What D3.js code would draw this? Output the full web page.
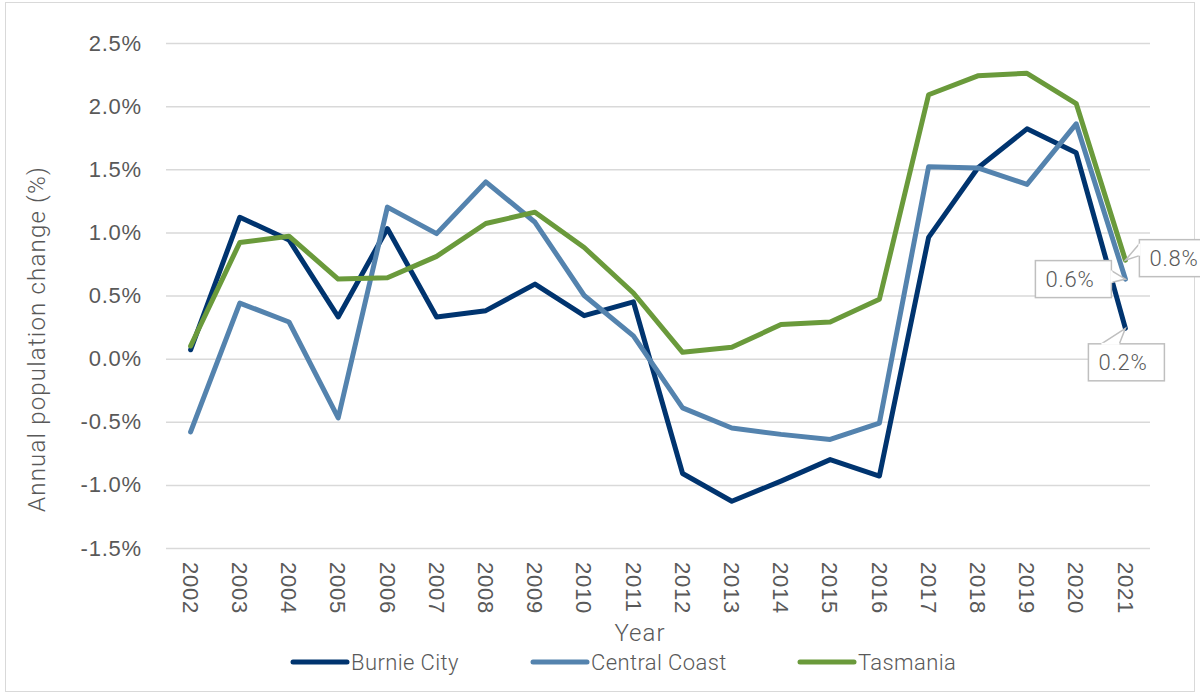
<!DOCTYPE html>
<html>
<head>
<meta charset="utf-8">
<script src="https://cdn.jsdelivr.net/npm/d3@7.9.0/dist/d3.min.js"></script>
<style>
  html, body { margin: 0; padding: 0; background: #fff; }
  svg { display: block; font-family: Roboto, "Liberation Sans", Arial, sans-serif; font-weight: 300; }
  .tick text { fill: #595959; }
</style>
</head>
<body>
<svg id="chart" width="1200" height="693"></svg>
<script>
// annual population change, %
var years = ['2002', '2003', '2004', '2005', '2006', '2007', '2008', '2009', '2010', '2011',
    '2012', '2013', '2014', '2015', '2016', '2017', '2018', '2019', '2020', '2021']
var burnie = [0.07, 1.12, 0.94, 0.33, 1.03, 0.33, 0.38, 0.59, 0.34, 0.45,
    -0.91, -1.13, -0.97, -0.80, -0.93, 0.96, 1.51, 1.82, 1.63, 0.24]
var centralCoast = [-0.58, 0.44, 0.29, -0.47, 1.20, 0.99, 1.40, 1.08, 0.50, 0.18,
    -0.39, -0.55, -0.60, -0.64, -0.51, 1.52, 1.51, 1.38, 1.86, 0.63]
var tasmania = [0.10, 0.92, 0.97, 0.63, 0.64, 0.81, 1.07, 1.16, 0.88, 0.52,
    0.05, 0.09, 0.27, 0.29, 0.47, 2.09, 2.24, 2.26, 2.02, 0.78]
var yTicks = [-1.5, -1.0, -0.5, 0.0, 0.5, 1.0, 1.5, 2.0, 2.5]

var series = [
    { name: 'Burnie City', values: burnie, color: '#00346f', label: { dx: 1, dy: 34, anchor: 'top' } },
    { name: 'Central Coast', values: centralCoast, color: '#5483ae', label: { dx: -52, dy: 0, anchor: 'right' } },
    { name: 'Tasmania', values: tasmania, color: '#6a9a3b', label: { dx: 52, dy: -2, anchor: 'left' } },
]

var svg = d3.select('#chart')
var W = 1200, H = 693
var m = { left: 166, right: 1150, top: 43, bottom: 548 }

// chart border
svg.append('rect')
    .attr('x', 5.5).attr('y', 2.5)
    .attr('width', W - 11).attr('height', H - 4)
    .attr('fill', '#fff').attr('stroke', '#d9d9d9').attr('stroke-width', 1)

var x = d3.scaleBand().domain(years).range([m.left, m.right])
var y = d3.scaleLinear().domain([-1.5, 2.5]).range([m.bottom, m.top])
var cx = function (i) { return x(years[i]) + x.bandwidth() / 2 }

// gridlines + y labels
var yAxis = svg.append('g')
    .attr('transform', 'translate(' + m.left + ',0)')
    .call(d3.axisLeft(y).tickValues(yTicks).tickSize(-(m.right - m.left)).tickPadding(24)
        .tickFormat(function (d) { return d.toFixed(1) + '%' }))
yAxis.select('.domain').remove()
yAxis.selectAll('.tick line').attr('stroke', '#d9d9d9').attr('stroke-width', 1.5)
yAxis.selectAll('.tick text').attr('font-size', 22).attr('letter-spacing', 0.8)

// x labels
var xAxis = svg.append('g')
    .attr('transform', 'translate(0,' + m.bottom + ')')
    .call(d3.axisBottom(x).tickSize(0).tickPadding(0))
xAxis.select('.domain').remove()
xAxis.selectAll('.tick text')
    .attr('font-size', 22)
    .attr('letter-spacing', 0.8)
    .attr('transform', 'translate(0,14) rotate(90)')
    .attr('dy', '0.35em')
    .attr('x', 0).attr('y', 0)
    .style('text-anchor', 'start')

// axis titles
svg.append('text')
    .attr('transform', 'translate(45,339) rotate(-90)')
    .attr('text-anchor', 'middle')
    .attr('font-size', 24).attr('fill', '#595959')
    .attr('letter-spacing', 1.2)
    .text('Annual population change (%)')
svg.append('text')
    .attr('x', 640).attr('y', 641)
    .attr('text-anchor', 'middle')
    .attr('font-size', 24).attr('fill', '#595959')
    .attr('letter-spacing', 1)
    .text('Year')

// lines
var line = d3.line()
    .x(function (d, i) { return cx(i) })
    .y(function (d) { return y(d) })

series.forEach(function (s) {
    svg.append('path')
        .datum(s.values)
        .attr('d', line)
        .attr('fill', 'none')
        .attr('stroke', s.color)
        .attr('stroke-width', 5)
        .attr('stroke-linejoin', 'round')
        .attr('stroke-linecap', 'round')
})

// callout labels on the last point
var last = years.length - 1
series.forEach(function (s) {
    var v = s.values[last]
    var px = cx(last), py = y(v)
    var bw = 76, bh = 37
    var bx = px + s.label.dx - bw / 2
    var by = py + s.label.dy - bh / 2
    var g = svg.append('g')
    g.append('rect')
        .attr('x', bx).attr('y', by).attr('width', bw).attr('height', bh)
        .attr('fill', '#fff').attr('stroke', '#bfbfbf').attr('stroke-width', 1.5)
    // wedge pointing at the data point
    var a, b
    if (s.label.anchor === 'top') {
        a = [bx + 13, by]; b = [bx + 31, by]
    } else if (s.label.anchor === 'right') {
        a = [bx + bw, by + 10]; b = [bx + bw, by + 22]
    } else {
        a = [bx, by + 4]; b = [bx, by + 16]
    }
    g.append('path')
        .attr('d', 'M' + a + 'L' + [px, py] + 'L' + b)
        .attr('fill', '#fff').attr('stroke', '#bfbfbf').attr('stroke-width', 1.5)
    g.append('line')
        .attr('x1', a[0]).attr('y1', a[1]).attr('x2', b[0]).attr('y2', b[1])
        .attr('stroke', '#fff').attr('stroke-width', 2)
    g.append('text')
        .attr('x', bx + 10).attr('y', by + bh / 2)
        .attr('dy', '0.36em')
        .attr('font-size', 22).attr('fill', '#595959')
        .attr('letter-spacing', 0.8)
        .text(v.toFixed(1) + '%')
})

// legend
var legX = [293, 533, 800]
series.forEach(function (s, i) {
    var g = svg.append('g').attr('transform', 'translate(' + legX[i] + ',662)')
    g.append('line')
        .attr('x1', 0).attr('x2', 54).attr('y1', 0).attr('y2', 0)
        .attr('stroke', s.color).attr('stroke-width', 5).attr('stroke-linecap', 'round')
    g.append('text')
        .attr('x', 58).attr('dy', '0.35em')
        .attr('font-size', 22).attr('fill', '#595959')
        .attr('letter-spacing', 0.4)
        .text(s.name)
})
</script>
</body>
</html>
